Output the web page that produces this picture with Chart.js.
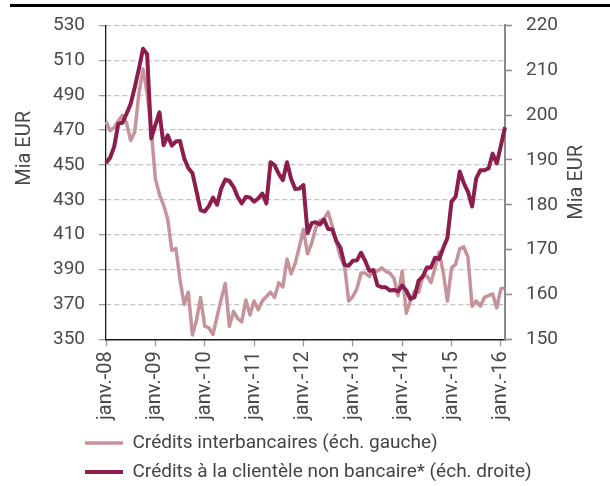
<!DOCTYPE html>
<html>
<head>
<meta charset="utf-8">
<script src="https://cdn.jsdelivr.net/npm/chart.js@4/dist/chart.umd.min.js"></script>
<style>
  html, body { margin: 0; padding: 0; background: #ffffff; }
  #wrap { position: relative; width: 610px; height: 486px; }
  #topRule { position: absolute; left: 10px; top: 4px; width: 600px; height: 3px; background: #000; }
  canvas { position: absolute; left: 0; top: 0; }
</style>
</head>
<body>
<div id="wrap">
  <canvas id="c" width="610" height="486"></canvas>
  <div id="topRule"></div>
</div>
<script>
// ---- Data ----
const monthNames = ['janv.', 'févr.', 'mars', 'avr.', 'mai', 'juin', 'juil.', 'août', 'sept.', 'oct.', 'nov.', 'déc.'];
const years = ['08', '09', '10', '11', '12', '13', '14', '15', '16'];
const categories = [];
years.forEach(y => monthNames.forEach(m => categories.push(m + '-' + y)));
categories.length = 98; // janv.-08 … févr.-16

const seriesNames = ['Crédits interbancaires (éch. gauche)', 'Crédits à la clientèle non bancaire* (éch. droite)'];
const axisTitleLeft = 'Mia EUR';
const axisTitleRight = 'Mia EUR';

// Crédits interbancaires (left scale, Mia EUR)
const interbank = [
  474.7, 469.6, 471.5, 475.3, 478.5, 474.0, 464.0, 469.0, 491.0, 505.0, 491.0, 470.0,
  442.0, 433.0, 427.0, 419.0, 401.0, 402.0, 384.0, 370.0, 377.0, 352.5, 361.0, 374.0,
  357.5, 356.6, 352.8, 363.0, 373.0, 382.0, 357.5, 366.0, 362.0, 360.0, 372.5, 364.0,
  372.0, 367.0, 372.0, 374.5, 377.0, 374.0, 382.5, 380.0, 396.0, 387.5, 393.5, 403.0,
  413.0, 399.0, 405.0, 414.0, 418.0, 419.0, 423.0, 415.0, 406.0, 397.0, 392.0, 372.0,
  374.5, 379.0, 388.0, 388.0, 386.0, 390.0, 389.0, 391.0, 389.0, 388.0, 385.0, 375.0,
  389.0, 365.0, 372.0, 377.5, 377.0, 386.0, 386.5, 382.5, 391.0, 400.0, 388.0, 372.0,
  391.0, 393.0, 402.0, 403.0, 397.0, 369.0, 372.0, 369.0, 374.0, 375.0, 376.0, 368.0,
  379.0, 379.5
];

// Crédits à la clientèle non bancaire (right scale, Mia EUR)
const nonbank = [
  189.3, 190.5, 193.0, 198.1, 198.3, 200.3, 202.5, 206.2, 210.3, 214.8, 213.6, 194.8,
  197.8, 200.6, 193.3, 195.5, 193.2, 194.1, 194.2, 190.4, 188.2, 187.1, 183.0, 178.8,
  178.5, 179.7, 181.6, 180.0, 183.6, 185.6, 185.3, 184.0, 181.8, 180.3, 181.8, 181.6,
  180.7, 181.4, 182.5, 180.3, 189.5, 188.8, 186.9, 185.5, 189.5, 185.8, 183.5, 183.6,
  184.4, 173.7, 175.9, 176.1, 175.6, 176.7, 174.6, 174.5, 171.9, 170.4, 166.6, 166.4,
  167.5, 167.6, 169.3, 167.5, 165.3, 165.4, 162.0, 161.6, 161.6, 160.9, 161.0, 160.7,
  162.0, 160.9, 159.0, 159.4, 163.1, 164.0, 166.0, 166.0, 168.2, 167.9, 170.4, 172.6,
  180.7, 181.8, 187.4, 184.8, 182.9, 179.6, 185.9, 187.7, 187.7, 188.1, 191.4, 189.2,
  193.2, 197.3
];

const leftTicks = { min: 350, max: 530, step: 20 };
const rightTicks = { min: 150, max: 220, step: 10 };

// ---- Styles ----
const colLight = '#c7939a';
const colDark = '#8c1d4d';
const textCol = '#4a4a4a';

Chart.defaults.font.family = 'Roboto, "Liberation Sans", sans-serif';
Chart.defaults.color = textCol;

const isJan = (i) => (categories[i] || '').startsWith('janv.');

const axisTitlesPlugin = {
  id: 'axisTitles',
  afterDraw(chart) {
    const ctx = chart.ctx;
    const area = chart.chartArea;
    ctx.save();
    ctx.font = '20px Roboto, "Liberation Sans", sans-serif';
    ctx.fillStyle = textCol;
    ctx.textAlign = 'center';
    ctx.textBaseline = 'middle';
    ctx.save();
    ctx.translate(chart.scales.yL.left + 25, area.top + 123);
    ctx.rotate(-Math.PI / 2);
    ctx.fillText(axisTitleLeft, 0, 0);
    ctx.restore();
    ctx.save();
    ctx.translate(chart.scales.yR.right - 33, (area.top + area.bottom) / 2);
    ctx.rotate(-Math.PI / 2);
    ctx.fillText(axisTitleRight, 0, 0);
    ctx.restore();
    ctx.restore();
  }
};

const legendShiftPlugin = {
  id: 'legendShift',
  beforeDraw(chart) {
    if (chart.legend) chart.legend.left = 75;
  }
};

new Chart(document.getElementById('c'), {
  type: 'line',
  data: {
    labels: categories,
    datasets: [
      {
        label: seriesNames[0],
        data: interbank,
        yAxisID: 'yL',
        borderColor: colLight,
        backgroundColor: colLight,
        borderWidth: 3.5,
        pointRadius: 0,
        tension: 0,
        borderJoinStyle: 'round',
        order: 2
      },
      {
        label: seriesNames[1],
        data: nonbank,
        yAxisID: 'yR',
        borderColor: colDark,
        backgroundColor: colDark,
        borderWidth: 4,
        pointRadius: 0,
        tension: 0,
        borderJoinStyle: 'round',
        order: 1
      }
    ]
  },
  options: {
    responsive: false,
    animation: false,
    devicePixelRatio: 1,
    layout: { padding: { top: 22, left: 0, right: 0, bottom: 0 } },
    plugins: {
      tooltip: { enabled: false },
      legend: {
        position: 'bottom',
        align: 'start',
        maxHeight: 62.5,
        labels: {
          usePointStyle: true,
          pointStyle: 'line',
          pointStyleWidth: 38,
          padding: 10,
          color: '#444',
          font: { size: 19 },
          sort: (a, b) => a.datasetIndex - b.datasetIndex
        }
      }
    },
    scales: {
      x: {
        offset: false,
        ticks: {
          autoSkip: false,
          maxRotation: 90,
          minRotation: 90,
          padding: 5,
          color: textCol,
          font: { size: 20 },
          callback: function (value, index) { return isJan(index) ? categories[index] : ''; }
        },
        grid: {
          drawOnChartArea: false,
          drawTicks: true,
          tickLength: 7,
          tickWidth: 1.3,
          tickColor: (c) => isJan(c.index) ? '#9a9a9a' : 'rgba(0,0,0,0)'
        },
        border: { color: '#1a1a1a', width: 1.5 },
        afterFit: (s) => { s.height = 84.2; }
      },
      yL: {
        position: 'left',
        min: leftTicks.min,
        max: leftTicks.max,
        ticks: { stepSize: leftTicks.step, padding: 14, color: textCol, font: { size: 19 } },
        grid: {
          color: (c) => c.index === 0 ? 'rgba(0,0,0,0)' : '#c4c4c4',
          lineWidth: 1.3,
          tickColor: '#9a9a9a',
          tickLength: 7,
          tickWidth: 1.3,
          tickBorderDash: []
        },
        border: { color: '#1a1a1a', width: 1.3, dash: [5, 3] },
        afterFit: (s) => { s.width = 106; }
      },
      yR: {
        position: 'right',
        min: rightTicks.min,
        max: rightTicks.max,
        ticks: { stepSize: rightTicks.step, padding: 14, color: textCol, font: { size: 19 } },
        grid: {
          drawOnChartArea: false,
          tickColor: '#8a8a8a',
          tickLength: 7,
          tickWidth: 1.5
        },
        border: { color: '#8a8a8a', width: 2 },
        afterFit: (s) => { s.width = 105; }
      }
    }
  },
  plugins: [axisTitlesPlugin, legendShiftPlugin]
});
</script>
</body>
</html>
